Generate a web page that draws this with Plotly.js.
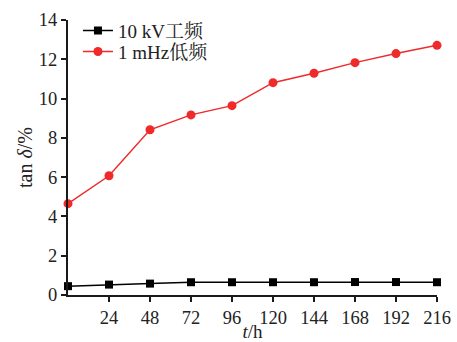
<!DOCTYPE html>
<html>
<head>
<meta charset="utf-8">
<script src="https://cdn.plot.ly/plotly-3.0.1.min.js"></script>
<style>html,body{margin:0;padding:0;background:#fff;}#chart{width:457px;height:342px;}</style>
</head>
<body>
<div id="chart"></div>
<script>
const hours = [0, 24, 48, 72, 96, 120, 144, 168, 192, 216];
const powerFreq10kV = [0.45, 0.53, 0.58, 0.65, 0.65, 0.65, 0.65, 0.66, 0.66, 0.65];
const lowFreq1mHz = [4.65, 6.07, 8.41, 9.17, 9.64, 10.81, 11.29, 11.83, 12.29, 12.71];
const seriesNames = ["10 kV工频", "1 mHz低频"];
const xTickVals = [24, 48, 72, 96, 120, 144, 168, 192, 216];
const yTickVals = [0, 2, 4, 6, 8, 10, 12, 14];

const serif = "'Liberation Serif', 'Times New Roman', 'Noto Sans CJK SC', serif";
const legendFont = "'Liberation Serif', 'Noto Serif CJK SC', 'Noto Sans CJK SC', serif";

const traces = [
  {
    x: hours, y: powerFreq10kV, name: seriesNames[0], type: 'scatter', mode: 'lines+markers',
    line: {color: '#000000', width: 1.5},
    marker: {symbol: 'square', size: 8, color: '#000000'},
    cliponaxis: false, legend: 'legend'
  },
  {
    x: hours, y: lowFreq1mHz, name: seriesNames[1], type: 'scatter', mode: 'lines+markers',
    line: {color: '#ee2a2a', width: 1.5},
    marker: {symbol: 'circle', size: 9, color: '#ee2a2a'},
    cliponaxis: false, legend: 'legend2'
  }
];

const legendBase = {
  xanchor: 'left', yanchor: 'top',
  bgcolor: 'rgba(0,0,0,0)', borderwidth: 0,
  font: {family: legendFont, size: 19, color: '#222222'},
  tracegroupgap: 0, itemwidth: 30
};

const layout = {
  width: 457, height: 342,
  margin: {l: 68, r: 20, t: 20, b: 46.5, autoexpand: false},
  paper_bgcolor: '#ffffff', plot_bgcolor: '#ffffff',
  showlegend: true,
  legend: Object.assign({}, legendBase, {x: 0.027, y: 1.03}),
  legend2: Object.assign({}, legendBase, {x: 0.027, y: 0.954}),
  xaxis: {
    range: [0, 216], tickvals: xTickVals, ticktext: xTickVals.map(String),
    showline: true, linecolor: '#1a1a1a', linewidth: 2,
    ticks: 'outside', ticklen: 5, tickwidth: 2, tickcolor: '#1a1a1a',
    showgrid: false, zeroline: false,
    tickfont: {family: serif, size: 18.5, color: '#222222'},
    title: {text: '<i>t</i>/h', font: {family: serif, size: 19, color: '#222222'}, standoff: 2}
  },
  yaxis: {
    range: [0, 14], tickvals: yTickVals, ticktext: yTickVals.map(String),
    showline: true, linecolor: '#1a1a1a', linewidth: 2,
    ticks: 'outside', ticklen: 5, tickwidth: 2, tickcolor: '#1a1a1a',
    showgrid: false, zeroline: false,
    tickfont: {family: serif, size: 18.5, color: '#222222'},
    title: {text: 'tan <i>δ</i>/%', font: {family: serif, size: 20, color: '#222222'}, standoff: 1}
  }
};

Plotly.newPlot('chart', traces, layout, {displayModeBar: false, staticPlot: true});
</script>
</body>
</html>
